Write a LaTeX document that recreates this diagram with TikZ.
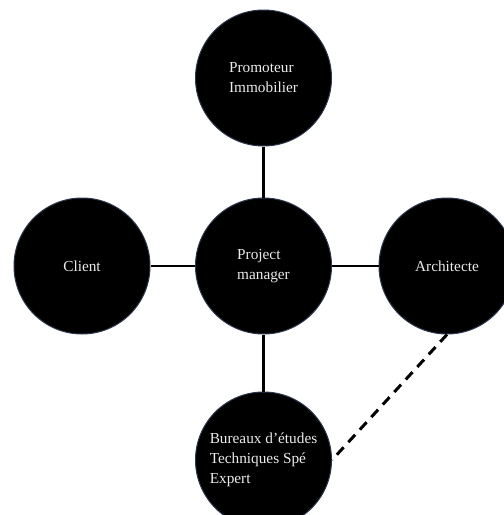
\documentclass[tikz,border=0pt]{standalone}
\usepackage{fontspec}
\setmainfont{Liberation Serif}
\begin{document}
\begin{tikzpicture}[x=1pt,y=-1pt,
  bubble/.style={circle,fill=black,draw={rgb,255:red,45;green,55;blue,75},line width=1pt,
    minimum size=136pt,inner sep=0pt,text=white!92!black,align=left,
    font=\fontsize{15.3}{20}\selectfont},
  link/.style={line width=2.5pt,black},
  dlink/.style={line width=3pt,black,dash pattern=on 10pt off 7pt}]
\useasboundingbox (0,0) rectangle (504,515);
\clip (0,0) rectangle (504,515);
\node[bubble] (prom) at (263.5,78) {Promoteur\\Immobilier};
\node[bubble] (pm) at (263.5,266) {Project\\manager};
\node[bubble] (cli) at (82,266) {Client};
\node[bubble] (arch) at (447,266) {Architecte};
\node[bubble] (bur) at (263.5,460) {Bureaux d’études\\Techniques Spé\\Expert};
\draw[link] (prom) -- (pm);
\draw[link] (cli) -- (pm);
\draw[link] (pm) -- (arch);
\draw[link] (pm) -- (bur);
\draw[dlink] (arch.south) -- (bur.east);
\end{tikzpicture}
\end{document}
